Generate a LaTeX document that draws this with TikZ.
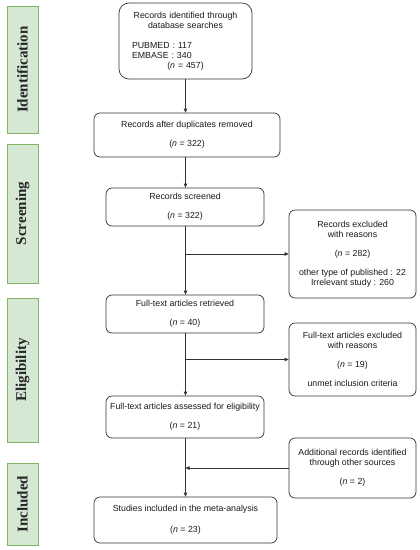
\documentclass[tikz,border=0pt]{standalone}
\usepackage{fontspec}
\setmainfont{Liberation Sans}
\newfontfamily\phasefont{Liberation Serif}
\usetikzlibrary{arrows.meta}
\definecolor{phasefill}{HTML}{D5E8D4}
\definecolor{phaseline}{HTML}{82B366}
\definecolor{boxline}{HTML}{333333}
\begin{document}
\begin{tikzpicture}[x=1pt,y=-1pt,
  flowbox/.style={draw=boxline,line width=0.7pt,rounded corners=6pt,align=center,
     font=\fontsize{8.8}{10}\selectfont,inner sep=0pt,text=black!90},
  phase/.style={draw=phaseline,fill=phasefill,line width=0.8pt,minimum width=31pt,
     inner sep=0pt,font=\phasefont\bfseries\fontsize{15}{15}\selectfont,text=black!85},
  flow/.style={draw=boxline,line width=0.7pt,-{Triangle[length=4pt,width=3.5pt]}},
  plain/.style={draw=boxline,line width=0.7pt}]
\useasboundingbox (0,0) rectangle (420,550);
% phase labels
\node[phase,minimum height=127pt] (pid) at (22.5,69.5) {\rotatebox{90}{Identification}};
\node[phase,minimum height=139pt] (psc) at (22.5,213.5) {\rotatebox{90}{Screening}};
\node[phase,minimum height=144pt] (pel) at (22.5,370) {\rotatebox{90}{Eligibility}};
\node[phase,minimum height=82pt] (pin) at (22.5,504) {\rotatebox{90}{Included}};
% boxes
\node[flowbox,rounded corners=10pt,minimum width=133pt,minimum height=76pt,text width=125pt] (b1) at (185.5,41)
  {Records identified through\\database searches\\[9.5pt]
   \makebox[125pt][l]{\hspace{9pt}PUBMED :\ 117}\\
   \makebox[125pt][l]{\hspace{9pt}EMBASE :\ 340}\\
   (\textit{n} = 457)};
\node[flowbox,minimum width=186pt,minimum height=44pt] (b2) at (187,135)
  {Records after duplicates removed\\[9pt](\textit{n} = 322)};
\node[flowbox,minimum width=158pt,minimum height=38pt] (b3) at (185,207)
  {Records screened\\[9pt](\textit{n} = 322)};
\node[flowbox,minimum width=127pt,minimum height=88pt] (e1) at (352.5,254)
  {Records excluded\\with reasons\\[9pt](\textit{n} = 282)\\[9pt]other type of published : 22\\Irrelevant study : 260};
\node[flowbox,minimum width=158pt,minimum height=38pt] (b4) at (185,314)
  {Full-text articles retrieved\\[9pt](\textit{n} = 40)};
\node[flowbox,minimum width=127pt,minimum height=73pt] (e2) at (352.5,359.5)
  {Full-text articles excluded\\with reasons\\[9pt](\textit{n} = 19)\\[9pt]unmet inclusion criteria};
\node[flowbox,minimum width=158pt,minimum height=42pt] (b5) at (185,417)
  {Full-text articles assessed for eligibility\\[9pt](\textit{n} = 21)};
\node[flowbox,minimum width=127pt,minimum height=60pt] (ad) at (352.5,468)
  {Additional records identified\\through other sources\\[9pt](\textit{n} = 2)};
\node[flowbox,minimum width=183pt,minimum height=46pt] (b6) at (185.5,520)
  {Studies included in the meta-analysis\\[11pt](\textit{n} = 23)};
% connectors
\draw[flow] (b1.south) -- (b1.south |- b2.north);
\draw[flow] (b1.south |- b2.south) -- (b1.south |- b3.north);
\draw[flow] (b1.south |- b3.south) -- (b1.south |- b4.north);
\coordinate (j1) at (b1.south |- e1.west);
\draw[flow] (j1) -- (e1.west);
\draw[flow] (b1.south |- b4.south) -- (b1.south |- b5.north);
\coordinate (j2) at (b1.south |- e2.west);
\draw[flow] (j2) -- (e2.west);
\draw[flow] (b1.south |- b5.south) -- (b1.south |- b6.north);
\coordinate (j3) at (b1.south |- ad.west);
\draw[flow] (ad.west) -- (j3);
\end{tikzpicture}
\end{document}
